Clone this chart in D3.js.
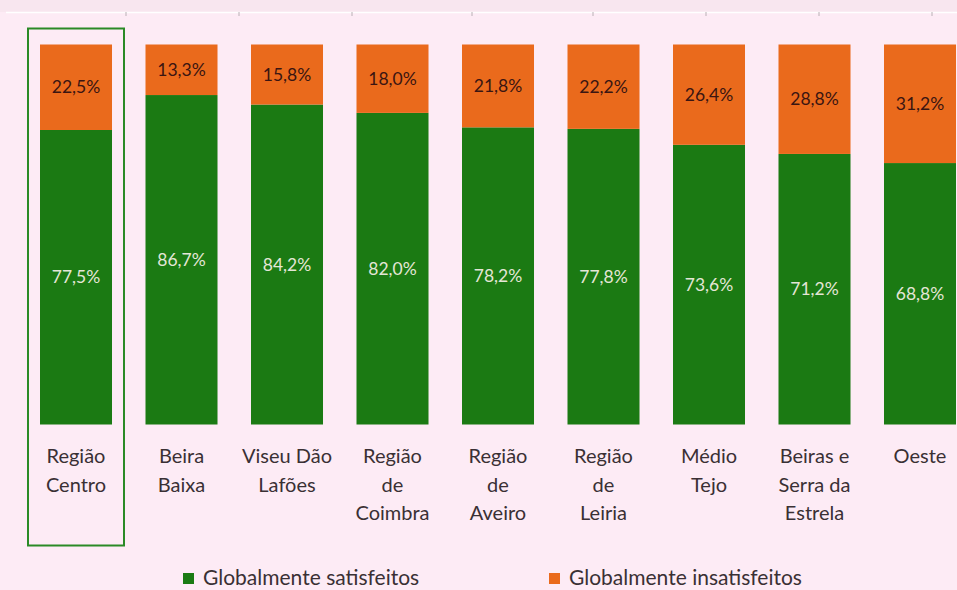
<!DOCTYPE html>
<html>
<head>
<meta charset="utf-8">
<script src="https://cdn.jsdelivr.net/npm/d3@7"></script>
<style>
  html, body { margin: 0; padding: 0; background: #fdebf5; }
  svg { display: block; }
</style>
</head>
<body>
<svg id="chart" width="957" height="590"></svg>
<script>
// Categories (line breaks mark how the axis labels wrap)
const categories = [
  "Região\nCentro",
  "Beira\nBaixa",
  "Viseu Dão\nLafões",
  "Região\nde\nCoimbra",
  "Região\nde\nAveiro",
  "Região\nde\nLeiria",
  "Médio\nTejo",
  "Beiras e\nSerra da\nEstrela",
  "Oeste"
];
const satisfeitos   = [77.5, 86.7, 84.2, 82.0, 78.2, 77.8, 73.6, 71.2, 68.8];
const insatisfeitos = [22.5, 13.3, 15.8, 18.0, 21.8, 22.2, 26.4, 28.8, 31.2];
const seriesNames = ["Globalmente satisfeitos", "Globalmente insatisfeitos"];
const highlighted = "Região\nCentro";

const colors = { sat: "#1b7a13", ins: "#ea6a1c" };
const fmt = v => v.toFixed(1).replace(".", ",") + "%";

const svg = d3.select("#chart");
const W = 957, H = 590;
const font = "Lato, 'Open Sans', sans-serif";

// background: slightly darker strip at the very top, separated by a white rule
svg.append("rect").attr("width", W).attr("height", H).attr("fill", "#fdebf5");
svg.append("rect").attr("width", W).attr("height", 12).attr("fill", "#f8e6ef");
svg.append("line").attr("x1", 6).attr("x2", W).attr("y1", 12.5).attr("y2", 12.5)
  .attr("stroke", "#ffffff").attr("stroke-width", 1.5);
const topTicks = [126, 239, 352, 472, 593, 706, 819, 932];
svg.selectAll("line.ttick").data(topTicks).enter().append("line")
  .attr("class", "ttick")
  .attr("x1", d => d).attr("x2", d => d).attr("y1", 12).attr("y2", 16)
  .attr("stroke", "#b9b0b5").attr("stroke-width", 1);

const step = 105.5, pad = 0.3175;
const x = d3.scaleBand()
  .domain(categories)
  .range([40 - step * pad / 2, 40 - step * pad / 2 + step * categories.length])
  .paddingInner(pad)
  .paddingOuter(pad / 2);
const y = d3.scaleLinear().domain([0, 100]).range([424.5, 44.5]);

const rows = categories.map((c, i) => ({ c, sat: satisfeitos[i], ins: insatisfeitos[i] }));

// green (satisfied) segments
svg.selectAll("rect.sat").data(rows).enter().append("rect")
  .attr("class", "sat")
  .attr("x", d => x(d.c)).attr("width", x.bandwidth())
  .attr("y", d => y(d.sat)).attr("height", d => y(0) - y(d.sat))
  .attr("fill", colors.sat);

// orange (unsatisfied) segments stacked on top
svg.selectAll("rect.ins").data(rows).enter().append("rect")
  .attr("class", "ins")
  .attr("x", d => x(d.c)).attr("width", x.bandwidth())
  .attr("y", d => y(d.sat + d.ins)).attr("height", d => y(d.sat) - y(d.sat + d.ins))
  .attr("fill", colors.ins);

// value labels
svg.selectAll("text.vsat").data(rows).enter().append("text")
  .attr("x", d => x(d.c) + x.bandwidth() / 2)
  .attr("y", d => (y(0) + y(d.sat)) / 2)
  .attr("dy", "0.35em")
  .attr("text-anchor", "middle")
  .attr("font-family", font).attr("font-size", 17.5)
  .attr("fill", "#e4e6d6")
  .text(d => fmt(d.sat));

svg.selectAll("text.vins").data(rows).enter().append("text")
  .attr("x", d => x(d.c) + x.bandwidth() / 2)
  .attr("y", d => (y(d.sat) + y(d.sat + d.ins)) / 2)
  .attr("dy", "0.35em")
  .attr("text-anchor", "middle")
  .attr("font-family", font).attr("font-size", 17.5)
  .attr("fill", "#3a1512")
  .text(d => fmt(d.ins));

// category axis labels
const catG = svg.selectAll("text.cat").data(categories).enter().append("text")
  .attr("text-anchor", "middle")
  .attr("font-family", font).attr("font-size", 20)
  .attr("fill", "#3a3034");
catG.selectAll("tspan").data(c => c.split("\n").map(t => ({ t, c }))).enter().append("tspan")
  .attr("x", d => x(d.c) + x.bandwidth() / 2)
  .attr("y", (d, i) => 463 + i * 28.5)
  .text(d => d.t);

// outline around the highlighted region
svg.append("rect")
  .attr("x", x(highlighted) - 12).attr("y", 28.5)
  .attr("width", x.bandwidth() + 24).attr("height", 517)
  .attr("fill", "none").attr("stroke", "#2a8a26").attr("stroke-width", 2);

// legend
const legend = [
  { name: seriesNames[0], color: colors.sat, x: 183 },
  { name: seriesNames[1], color: colors.ins, x: 549 }
];
const lg = svg.selectAll("g.lg").data(legend).enter().append("g")
  .attr("transform", d => `translate(${d.x},0)`);
lg.append("rect").attr("x", 0).attr("y", 573).attr("width", 11).attr("height", 11)
  .attr("fill", d => d.color);
lg.append("text").attr("x", 20).attr("y", 585)
  .attr("font-family", font).attr("font-size", 21)
  .attr("fill", "#3a3034")
  .text(d => d.name);
</script>
</body>
</html>
